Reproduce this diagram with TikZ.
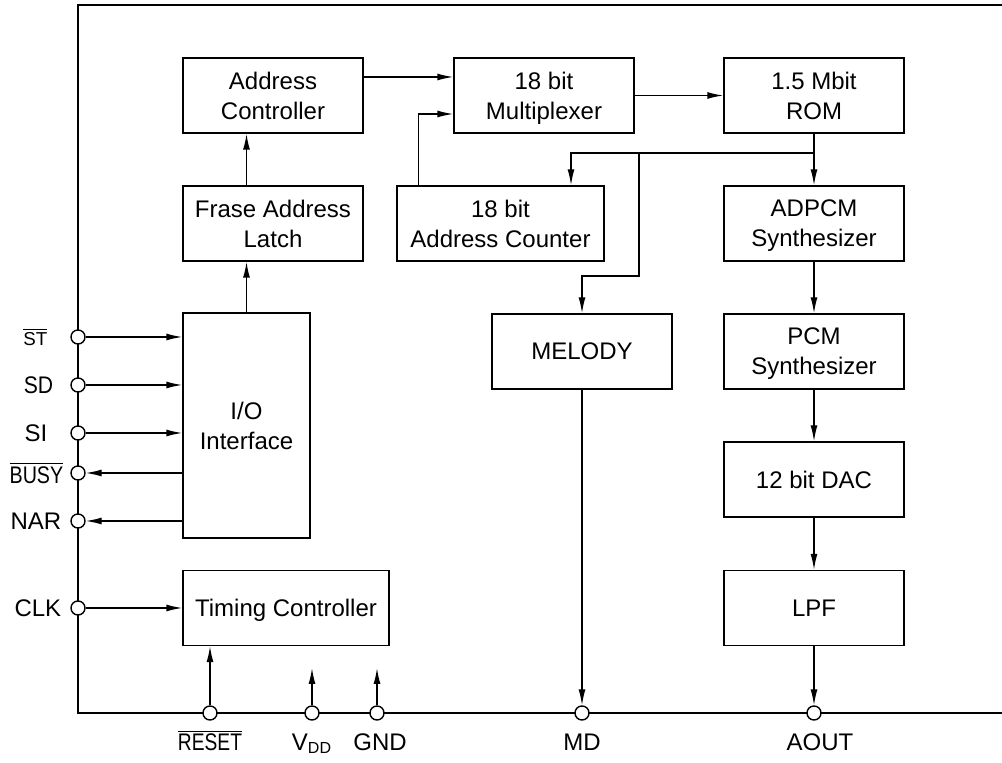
\documentclass[tikz,border=0pt]{standalone}
\usepackage{fontspec}
\setmainfont{Liberation Sans}
\usepackage{graphicx}
\usepackage{tikz}
\usetikzlibrary{positioning,arrows.meta}

\newcommand{\inv}[2][0.8]{$\overline{\mbox{\scalebox{#1}[1]{#2}}}$}

\tikzset{
	blk/.style={draw, line width=0.7pt, minimum width=90pt, minimum height=37.5pt, inner sep=0pt, align=center, text depth=0pt},
	pin/.style={draw, circle, fill=white, line width=0.7pt, minimum size=7pt, inner sep=0pt},
	arr/.style={-{Latex[length=8pt,width=3.5pt]}, line width=0.7pt},
}

\begin{document}
\begin{tikzpicture}[x=0.5pt, y=-0.5pt, font=\fontsize{12}{15}\selectfont]
	\useasboundingbox (0,0) rectangle (1002,763);
	\draw[line width=0.7pt] (1002,5) -- (78,5) -- (78,713) -- (1002,713); % chip outline

	% blocks
	\node[blk] (addr) at (273,95.5) {Address\\Controller};
	\node[blk] (latch) at (273,223.5) {Frase Address\\Latch};
	\node[blk, minimum width=63.5pt, minimum height=112.5pt] (io) at (246.5,425.5) {I/O\\Interface};
	\node[blk, minimum width=103pt] (timing) at (286,608) {Timing Controller};
	\node[blk] (mux) at (544,95.5) {18 bit\\Multiplexer};
	\node[blk] (rom) at (814,95.5) {1.5 Mbit\\ROM};
	\node[blk, minimum width=103.5pt] (counter) at (500.5,223.5) {18 bit\\Address Counter};
	\node[blk] (adpcm) at (814,223.5) {ADPCM\\Synthesizer};
	\node[blk] (melody) at (582,351.5) {MELODY};
	\node[blk] (pcm) at (814,351.5) {PCM\\Synthesizer};
	\node[blk] (dac) at (814,479.5) {12 bit DAC};
	\node[blk] (lpf) at (814,608) {LPF};

	% pins
	\node[pin] (st) at (78,337) {};
	\node[pin] (sd) at (78,385) {};
	\node[pin] (si) at (78,433) {};
	\node[pin] (busy) at (78,473) {};
	\node[pin] (nar) at (78,521) {};
	\node[pin] (clk) at (78,608) {};
	\node[pin] (reset) at (210,713) {};
	\node[pin] (vdd) at (312,713) {};
	\node[pin] (gnd) at (377,713) {};
	\node[pin] (md) at (582,713) {};
	\node[pin] (aout) at (814,713) {};

	\node[left=8pt of st] (stlab) {$\overline{\mbox{\scalebox{0.78}{ST}}}$};
	\node[left=5pt of sd] (sdlab) {\scalebox{0.88}[1]{SD}};
	\node[left=8pt of si] (silab) {SI};
	\node[left=0pt of busy] (busylab) {\inv[0.82]{BUSY}};
	\node[left=1pt of nar] (narlab) {NAR};
	\node[left=1pt of clk] (clklab) {CLK};
	\node[below=1pt of reset] (resetlab) {\inv{RESET}};
	\node[below=3pt of vdd] (vddlab) {V\textsubscript{DD}};
	\node[below=3pt of gnd, xshift=1.5pt] (gndlab) {GND};
	\node[below=3pt of md] (mdlab) {MD};
	\node[below=3pt of aout, xshift=3pt] (aoutlab) {AOUT};

	\coordinate (tap) at (814,153);
	\coordinate (tapm) at (639,153);
	\coordinate (bend) at (639,276);
	\coordinate (vddend) at (312,668);
	\coordinate (gndend) at (377,668);

	% signal flow
	\draw[arr] (io.north) -- (io.north |- latch.south);
	\draw[arr] (io.north |- latch.north) -- (io.north |- addr.south);
	\draw[arr] ([yshift=9.25pt]addr.east) -- ([yshift=9.25pt]mux.west);
	\draw[arr] ([xshift=11pt]counter.north west) |- ([yshift=-9.25pt]mux.west);
	\draw[arr] (mux) -- (rom);
	\draw[arr] (rom) -- (adpcm);
	\draw[line width=0.7pt] (tap) -- (tapm);
	\draw[arr] (tapm) -| ([xshift=35.25pt]counter.north);
	\draw[arr] (tapm) -- (bend) -| (melody.north);
	\draw[arr] (adpcm) -- (pcm);
	\draw[arr] (pcm) -- (dac);
	\draw[arr] (dac) -- (lpf);
	\draw[arr] (lpf) -- (aout);
	\draw[arr] (melody) -- (md);

	\draw[arr] (st) -- (st -| io.west);
	\draw[arr] (sd) -- (sd -| io.west);
	\draw[arr] (si) -- (si -| io.west);
	\draw[arr] (busy -| io.west) -- (busy);
	\draw[arr] (nar -| io.west) -- (nar);
	\draw[arr] (clk) -- (timing);
	\draw[arr] (reset) -- (reset |- timing.south);
	\draw[arr] (vdd) -- (vddend);
	\draw[arr] (gnd) -- (gndend);
\end{tikzpicture}
\end{document}
